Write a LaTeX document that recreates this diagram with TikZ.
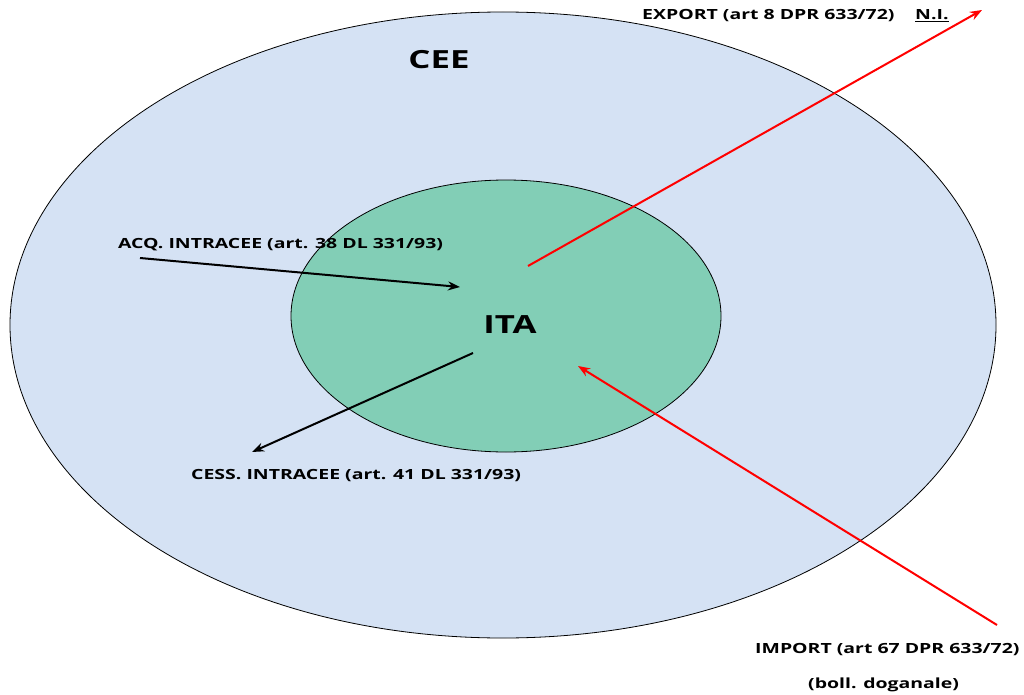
\documentclass[tikz,border=0pt]{standalone}
\usepackage{fontspec}
\setmainfont{Open Sans}[FakeStretch=1.39]
\usetikzlibrary{arrows.meta}

\definecolor{ceeblue}{RGB}{213,226,244}
\definecolor{itagreen}{RGB}{130,206,182}
\definecolor{arrred}{RGB}{255,0,0}

\tikzset{
  lbl/.style={font=\bfseries\fontsize{14}{16}\selectfont, inner sep=0pt, anchor=west},
  big/.style={font=\bfseries\fontsize{25}{28}\selectfont, inner sep=0pt},
  flow/.style={line width=2pt, -{Stealth[length=12pt,width=9pt]}},
}

\begin{document}
\begin{tikzpicture}[x=1pt,y=-1pt]
  \useasboundingbox (0,0) rectangle (1024,695);

  % The two areas.
  \draw [fill=ceeblue, line width=0.8pt] (503,325) ellipse [x radius=493, y radius=313];
  \draw [fill=itagreen, line width=0.8pt] (506,316) ellipse [x radius=215, y radius=136];

  \node [big] (cee) at (439,60) {CEE};
  \node [big] (ita) at (510,325) {ITA};

  % Arrow ends.
  \coordinate (acqS) at (140,258);
  \coordinate (acqE) at (460,287);
  \coordinate (cesS) at (473,353);
  \coordinate (cesE) at (252,452);
  \coordinate (expS) at (528,266);
  \coordinate (expE) at (982,10);
  \coordinate (impS) at (997,625);
  \coordinate (impE) at (578,366);

  \draw [flow] (acqS) -- (acqE);
  \draw [flow] (cesS) -- (cesE);
  \draw [flow, arrred] (expS) -- (expE);
  \draw [flow, arrred] (impS) -- (impE);

  % Labels.
  \node [lbl] (acq) at (118,245) {ACQ. INTRACEE (art. 38 DL 331/93)};
  \node [lbl] (cess) at (191,476) {CESS. INTRACEE (art. 41 DL 331/93)};
  \node [lbl] (export) at (642,16) {EXPORT (art 8 DPR 633/72)};
  \node [lbl] (ni) at (915,16) {\underline{N.I.}};
  \node [lbl] (import) at (755,650) {IMPORT (art 67 DPR 633/72)};
  \node [lbl] (boll) at (808,685) {(boll. doganale)};

\end{tikzpicture}
\end{document}
